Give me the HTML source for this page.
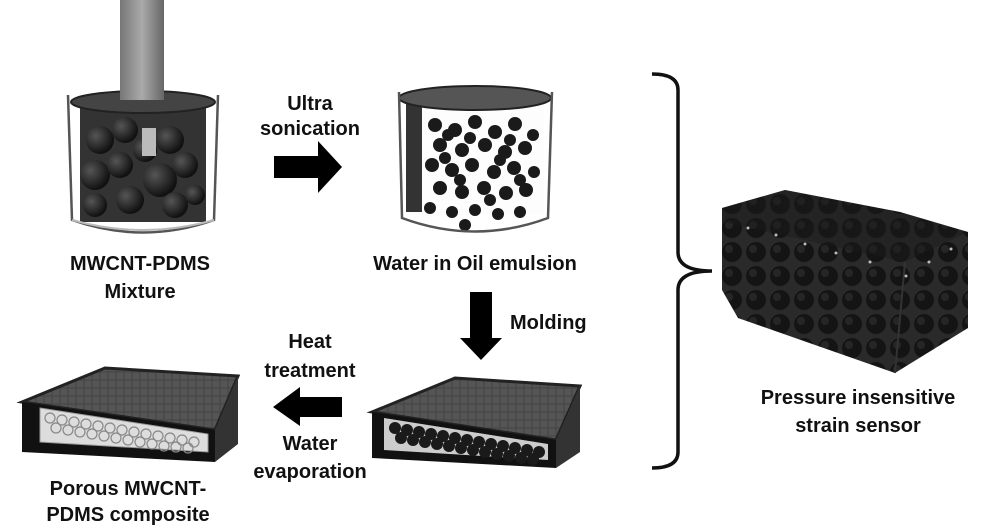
<!DOCTYPE html>
<html><head><meta charset="utf-8"><style>
html,body{margin:0;padding:0;background:#fff;}
svg{display:block;}
text{font-family:"Liberation Sans",Arial,sans-serif;font-weight:bold;fill:#111;}
</style></head><body>
<svg width="1000" height="526" viewBox="0 0 1000 526" xmlns="http://www.w3.org/2000/svg">
<defs>
<radialGradient id="ball" cx="35%" cy="35%" r="65%"><stop offset="0" stop-color="#555"/><stop offset="1" stop-color="#111"/></radialGradient>
<linearGradient id="rod" x1="0" x2="1"><stop offset="0" stop-color="#777"/><stop offset="0.5" stop-color="#aaa"/><stop offset="1" stop-color="#666"/></linearGradient>
<pattern id="foam" width="24" height="24" patternUnits="userSpaceOnUse"><rect width="24" height="24" fill="#2a2a2a"/><circle cx="12" cy="12" r="10" fill="#141414"/><circle cx="9" cy="9" r="4" fill="#262626"/></pattern>
<pattern id="grid" width="8" height="8" patternUnits="userSpaceOnUse"><rect width="8" height="8" fill="#555"/><path d="M0 4H8M4 0V8" stroke="#444" stroke-width="1"/></pattern>
</defs>

<!-- Beaker 1 -->
<rect x="80" y="100" width="126" height="122" fill="#333"/>
<g fill="url(#ball)">
<circle cx="100" cy="140" r="14"/><circle cx="125" cy="130" r="13"/><circle cx="95" cy="175" r="15"/><circle cx="120" cy="165" r="13"/><circle cx="170" cy="140" r="14"/><circle cx="185" cy="165" r="13"/><circle cx="160" cy="180" r="17"/><circle cx="130" cy="200" r="14"/><circle cx="95" cy="205" r="12"/><circle cx="175" cy="205" r="13"/><circle cx="145" cy="150" r="12"/><circle cx="195" cy="195" r="10"/>
</g>
<rect x="142" y="128" width="14" height="28" fill="#bbb"/>
<ellipse cx="143" cy="102" rx="72" ry="11" fill="#444" stroke="#222" stroke-width="2"/>
<path d="M68 95 L72 220 Q143 245 214 220 L218 95" fill="none" stroke="#555" stroke-width="2.5"/>
<rect x="120" y="0" width="44" height="100" fill="url(#rod)"/>
<path d="M72 220 Q143 240 214 220" fill="none" stroke="#bbb" stroke-width="2"/>

<!-- Arrow right -->
<text x="310" y="110" font-size="20" text-anchor="middle">Ultra</text>
<text x="310" y="135" font-size="20" text-anchor="middle">sonication</text>
<polygon points="274,156 318,156 318,141 342,167 318,193 318,178 274,178" fill="#000"/>

<!-- Beaker 2 -->
<rect x="408" y="100" width="136" height="115" fill="#fdfdfd"/>
<rect x="406" y="100" width="16" height="112" fill="#333"/>
<g fill="#1a1a1a">
<circle cx="435" cy="125" r="7"/><circle cx="455" cy="130" r="7"/><circle cx="475" cy="122" r="7"/><circle cx="495" cy="132" r="7"/><circle cx="515" cy="124" r="7"/><circle cx="533" cy="135" r="6"/>
<circle cx="440" cy="145" r="7"/><circle cx="462" cy="150" r="7"/><circle cx="485" cy="145" r="7"/><circle cx="505" cy="152" r="7"/><circle cx="525" cy="148" r="7"/>
<circle cx="432" cy="165" r="7"/><circle cx="452" cy="170" r="7"/><circle cx="472" cy="165" r="7"/><circle cx="494" cy="172" r="7"/><circle cx="514" cy="168" r="7"/><circle cx="534" cy="172" r="6"/>
<circle cx="440" cy="188" r="7"/><circle cx="462" cy="192" r="7"/><circle cx="484" cy="188" r="7"/><circle cx="506" cy="193" r="7"/><circle cx="526" cy="190" r="7"/>
<circle cx="430" cy="208" r="6"/><circle cx="452" cy="212" r="6"/><circle cx="475" cy="210" r="6"/><circle cx="498" cy="214" r="6"/><circle cx="520" cy="212" r="6"/><circle cx="465" cy="225" r="6"/>
<circle cx="448" cy="135" r="6"/><circle cx="470" cy="138" r="6"/><circle cx="510" cy="140" r="6"/><circle cx="445" cy="158" r="6"/><circle cx="500" cy="160" r="6"/><circle cx="460" cy="180" r="6"/><circle cx="520" cy="180" r="6"/><circle cx="490" cy="200" r="6"/>
</g>
<ellipse cx="475" cy="98" rx="76" ry="12" fill="#555" stroke="#222" stroke-width="2"/>
<path d="M399 92 L402 218 Q475 245 548 218 L552 92" fill="none" stroke="#555" stroke-width="2.5"/>

<text x="140" y="270" font-size="20" text-anchor="middle">MWCNT-PDMS</text>
<text x="140" y="298" font-size="20" text-anchor="middle">Mixture</text>
<text x="475" y="270" font-size="20" text-anchor="middle">Water in Oil emulsion</text>

<!-- Down arrow -->
<polygon points="470,292 492,292 492,338 502,338 481,360 460,338 470,338" fill="#000"/>
<text x="510" y="329" font-size="20">Molding</text>

<!-- Tray 2 -->
<polygon points="372,412 455,378 580,386 556,440" fill="url(#grid)" stroke="#222" stroke-width="3"/>
<polygon points="372,412 556,440 556,468 372,458" fill="#111"/>
<polygon points="556,440 580,386 580,452 556,468" fill="#333"/>
<polygon points="384,418 548,444 548,460 384,450" fill="#ccc"/>
<g fill="#1a1a1a">
<circle cx="395" cy="428" r="6"/><circle cx="407" cy="430" r="6"/><circle cx="419" cy="432" r="6"/><circle cx="431" cy="434" r="6"/><circle cx="443" cy="436" r="6"/><circle cx="455" cy="438" r="6"/><circle cx="467" cy="440" r="6"/><circle cx="479" cy="442" r="6"/><circle cx="491" cy="444" r="6"/><circle cx="503" cy="446" r="6"/><circle cx="515" cy="448" r="6"/><circle cx="527" cy="450" r="6"/><circle cx="539" cy="452" r="6"/>
<circle cx="401" cy="438" r="6"/><circle cx="413" cy="440" r="6"/><circle cx="425" cy="442" r="6"/><circle cx="437" cy="444" r="6"/><circle cx="449" cy="446" r="6"/><circle cx="461" cy="448" r="6"/><circle cx="473" cy="450" r="6"/><circle cx="485" cy="452" r="6"/><circle cx="497" cy="454" r="6"/><circle cx="509" cy="456" r="6"/><circle cx="521" cy="458" r="6"/><circle cx="533" cy="459" r="6"/>
</g>

<!-- Left arrow -->
<text x="310" y="348" font-size="20" text-anchor="middle">Heat</text>
<text x="310" y="377" font-size="20" text-anchor="middle">treatment</text>
<polygon points="342,397 300,397 300,387 273,407 300,426 300,417 342,417" fill="#000"/>
<text x="310" y="450" font-size="20" text-anchor="middle">Water</text>
<text x="310" y="478" font-size="20" text-anchor="middle">evaporation</text>

<!-- Tray 1 -->
<polygon points="22,402 105,368 238,376 215,430" fill="url(#grid)" stroke="#222" stroke-width="3"/>
<polygon points="22,402 215,430 215,462 22,452" fill="#111"/>
<polygon points="215,430 238,376 238,444 215,462" fill="#333"/>
<polygon points="40,408 208,434 208,452 40,442" fill="#ddd" stroke="#999" stroke-width="1"/>
<g fill="none" stroke="#888" stroke-width="1.2">
<circle cx="50" cy="418" r="5"/><circle cx="62" cy="420" r="5"/><circle cx="74" cy="422" r="5"/><circle cx="86" cy="424" r="5"/><circle cx="98" cy="426" r="5"/><circle cx="110" cy="428" r="5"/><circle cx="122" cy="430" r="5"/><circle cx="134" cy="432" r="5"/><circle cx="146" cy="434" r="5"/><circle cx="158" cy="436" r="5"/><circle cx="170" cy="438" r="5"/><circle cx="182" cy="440" r="5"/><circle cx="194" cy="442" r="5"/>
<circle cx="56" cy="428" r="5"/><circle cx="68" cy="430" r="5"/><circle cx="80" cy="432" r="5"/><circle cx="92" cy="434" r="5"/><circle cx="104" cy="436" r="5"/><circle cx="116" cy="438" r="5"/><circle cx="128" cy="440" r="5"/><circle cx="140" cy="442" r="5"/><circle cx="152" cy="444" r="5"/><circle cx="164" cy="446" r="5"/><circle cx="176" cy="447" r="5"/><circle cx="188" cy="448" r="5"/>
</g>

<text x="128" y="495" font-size="20" text-anchor="middle">Porous MWCNT-</text>
<text x="128" y="521" font-size="20" text-anchor="middle">PDMS composite</text>

<!-- Bracket -->
<path d="M652 74 Q678 74 678 90 L678 252 Q678 271 712 271 Q678 271 678 290 L678 452 Q678 468 652 468" fill="none" stroke="#111" stroke-width="3.5"/>

<!-- Foam block -->
<polygon points="722,208 785,190 900,212 968,232 968,328 895,373 738,318 722,290" fill="url(#foam)"/>
<polygon points="722,208 785,190 900,212 968,232 905,262 722,222" fill="#1a1a1a" opacity="0.45"/>
<path d="M905 262 L895 373" stroke="#333" stroke-width="2"/>
<g fill="#bbb"><circle cx="748" cy="228" r="1.5"/><circle cx="776" cy="235" r="1.5"/><circle cx="805" cy="244" r="1.5"/><circle cx="836" cy="253" r="1.5"/><circle cx="870" cy="262" r="1.5"/><circle cx="906" cy="276" r="1.5"/><circle cx="929" cy="262" r="1.5"/><circle cx="951" cy="249" r="1.5"/></g>

<text x="858" y="404" font-size="20" text-anchor="middle">Pressure insensitive</text>
<text x="858" y="432" font-size="20" text-anchor="middle">strain sensor</text>
</svg>
</body></html>
